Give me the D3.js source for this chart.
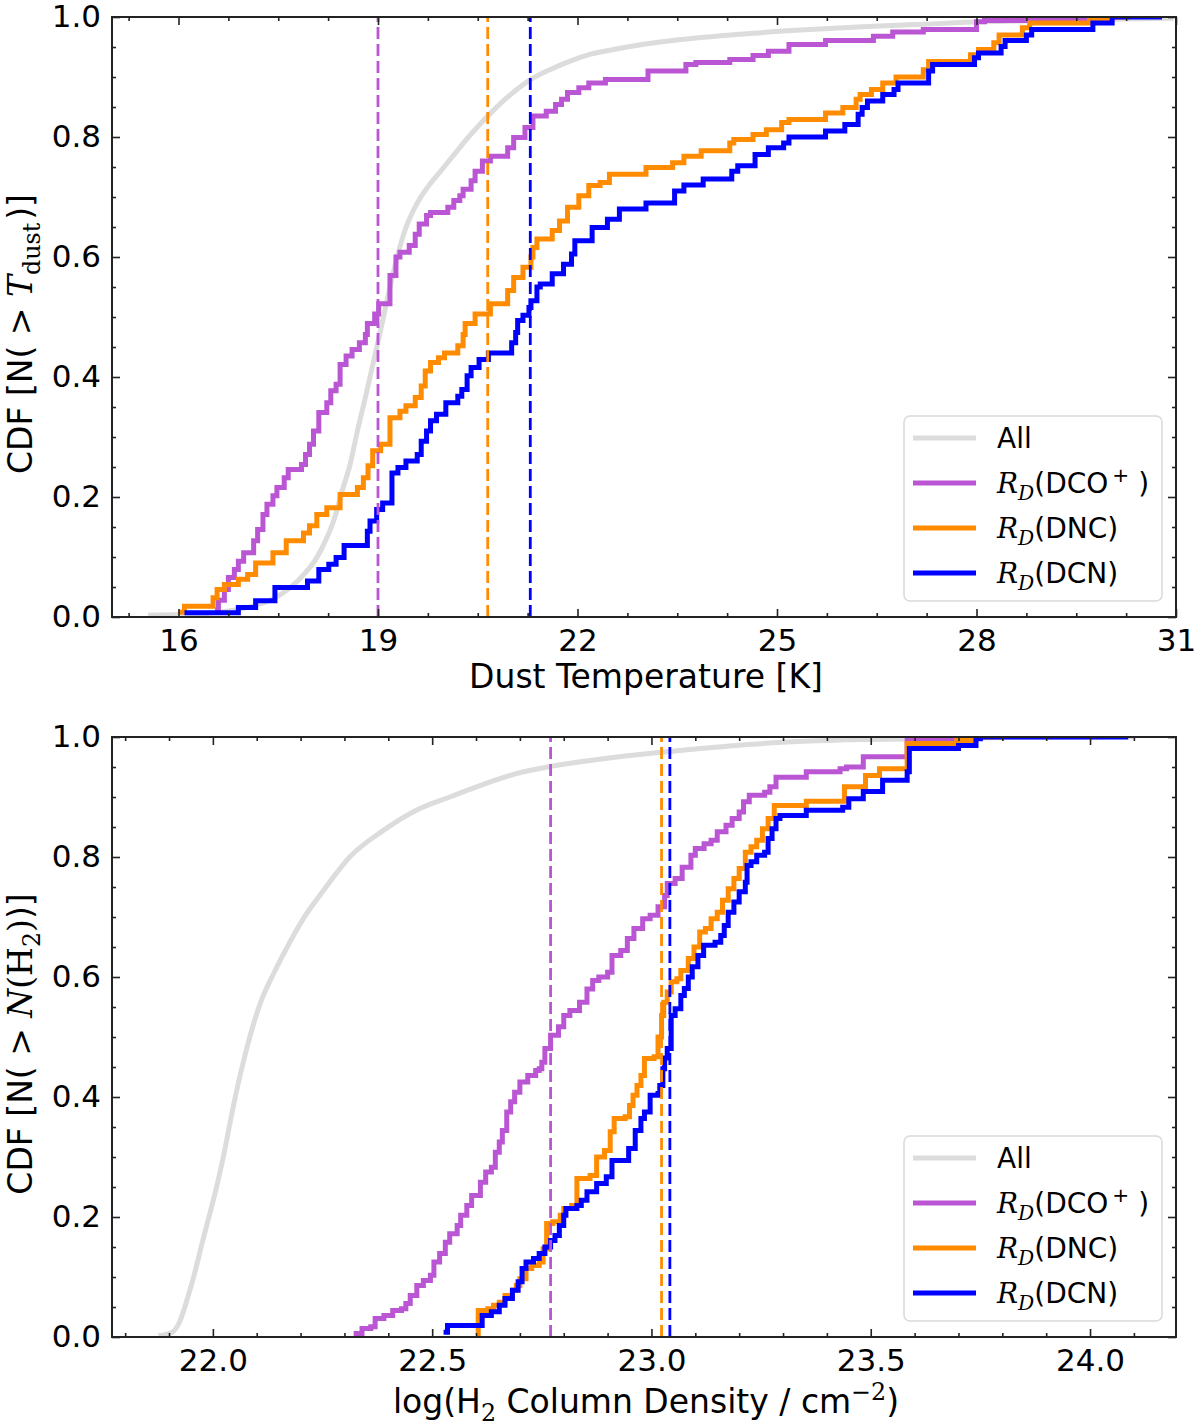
<!DOCTYPE html>
<html>
<head>
<meta charset="utf-8">
<script src="https://cdn.jsdelivr.net/npm/d3@7"></script>
<style>
    body { margin: 0; background: #fff; }
    svg text { font-family: "DejaVu Sans", sans-serif; fill: #000; }
    svg .math { font-family: "DejaVu Serif", "Liberation Serif", serif; }
</style>
</head>
<body>
<div id="chart"></div>
<script>
// ---- Top panel: dust temperature CDFs (x = T_dust in K, y = cumulative fraction)
const tdustAll = [[15.54,0.003],[16.0,0.004],[16.52,0.007],[17.04,0.016],[17.45,0.032],[17.68,0.049],[17.91,0.074],
    [18.08,0.099],[18.23,0.132],[18.35,0.166],[18.46,0.21],[18.58,0.254],[18.69,0.31],[18.81,0.366],[18.9,0.41],
    [18.98,0.449],[19.07,0.494],[19.18,0.55],[19.3,0.605],[19.4,0.643],[19.52,0.675],[19.65,0.701],[19.8,0.724],
    [19.95,0.744],[20.11,0.766],[20.4,0.805],[20.75,0.846],[21.04,0.875],[21.3,0.896],[21.6,0.913],[21.9,0.927],
    [22.2,0.938],[22.6,0.947],[22.91,0.953],[23.3,0.959],[23.78,0.965],[24.64,0.973],[25.5,0.979],[26.36,0.984],
    [27.22,0.988],[28.09,0.992],[28.95,0.994],[29.81,0.996],[30.96,0.998]];
const tdustDCO = [[16.55,0.012],[16.6,0.028],[16.69,0.046],[16.75,0.066],[16.84,0.079],[16.9,0.093],[16.98,0.107],
    [17.13,0.127],[17.19,0.146],[17.27,0.171],[17.33,0.188],[17.42,0.202],[17.48,0.216],[17.59,0.232],[17.65,0.246],
    [17.85,0.254],[17.91,0.271],[17.97,0.288],[18.03,0.31],[18.11,0.341],[18.23,0.357],[18.29,0.377],[18.37,0.388],
    [18.43,0.421],[18.52,0.435],[18.61,0.446],[18.72,0.457],[18.81,0.471],[18.84,0.489],[18.95,0.505],[19.01,0.522],
    [19.18,0.569],[19.27,0.6],[19.33,0.608],[19.47,0.619],[19.56,0.638],[19.62,0.655],[19.73,0.669],[19.79,0.674],
    [20.05,0.683],[20.14,0.694],[20.23,0.702],[20.28,0.713],[20.4,0.727],[20.46,0.743],[20.57,0.76],[20.69,0.768],
    [20.95,0.782],[21.04,0.799],[21.21,0.816],[21.33,0.835],[21.53,0.843],[21.67,0.854],[21.76,0.863],[21.85,0.874],
    [22.02,0.882],[22.17,0.89],[22.42,0.896],[23.06,0.91],[23.63,0.921],[23.78,0.924],[24.29,0.929],[24.64,0.936],
    [24.87,0.943],[25.18,0.954],[25.73,0.961],[26.45,0.968],[26.74,0.975],[27.2,0.979],[28.0,0.992],[28.12,0.994],
    [28.89,0.997],[29.98,1.0],[30.0,1.0]];
const tdustDNC = [[16.0,0.008],[16.09,0.018],[16.52,0.032],[16.58,0.046],[16.69,0.054],[16.9,0.063],[17.04,0.071],
    [17.16,0.09],[17.42,0.107],[17.62,0.127],[17.88,0.14],[17.97,0.152],[18.08,0.171],[18.23,0.182],[18.43,0.204],
    [18.69,0.216],[18.78,0.232],[18.85,0.252],[18.92,0.277],[19.04,0.288],[19.18,0.332],[19.33,0.343],[19.42,0.352],
    [19.56,0.366],[19.65,0.385],[19.71,0.41],[19.79,0.424],[19.91,0.432],[20.0,0.44],[20.2,0.452],[20.28,0.471],
    [20.31,0.489],[20.46,0.505],[20.69,0.522],[20.95,0.544],[21.04,0.566],[21.18,0.583],[21.3,0.6],[21.33,0.616],
    [21.39,0.63],[21.62,0.644],[21.73,0.66],[21.85,0.683],[22.02,0.702],[22.17,0.719],[22.34,0.724],[22.48,0.738],
    [23.03,0.749],[23.43,0.757],[23.6,0.768],[23.86,0.777],[24.29,0.79],[24.35,0.796],[24.64,0.804],[24.84,0.812],
    [25.07,0.824],[25.18,0.829],[25.73,0.84],[25.99,0.849],[26.19,0.863],[26.25,0.871],[26.42,0.879],[26.59,0.89],
    [26.79,0.9],[27.2,0.912],[27.28,0.926],[27.91,0.937],[28.03,0.946],[28.26,0.957],[28.34,0.97],[28.69,0.982],
    [28.8,0.99],[29.7,0.995],[29.98,1.0],[30.3,1.0]];
const tdustDCN = [[16.09,0.007],[16.9,0.016],[17.16,0.027],[17.45,0.049],[17.94,0.06],[18.11,0.079],[18.26,0.088],
    [18.37,0.099],[18.49,0.119],[18.84,0.143],[18.88,0.16],[18.98,0.179],[19.07,0.19],[19.21,0.24],[19.3,0.249],
    [19.42,0.26],[19.59,0.271],[19.65,0.293],[19.73,0.31],[19.79,0.327],[19.88,0.338],[20.02,0.357],[20.2,0.368],
    [20.26,0.379],[20.34,0.402],[20.4,0.416],[20.52,0.429],[20.66,0.44],[21.01,0.457],[21.07,0.474],[21.1,0.494],
    [21.18,0.503],[21.27,0.516],[21.3,0.527],[21.39,0.55],[21.44,0.555],[21.62,0.572],[21.79,0.588],[21.91,0.605],
    [21.96,0.627],[22.22,0.649],[22.45,0.663],[22.63,0.68],[23.03,0.69],[23.46,0.71],[23.6,0.72],[23.89,0.73],
    [24.32,0.743],[24.41,0.752],[24.67,0.771],[24.87,0.782],[25.1,0.79],[25.18,0.8],[25.73,0.81],[26.02,0.821],
    [26.22,0.838],[26.28,0.849],[26.36,0.86],[26.59,0.871],[26.76,0.879],[26.82,0.89],[27.28,0.91],[27.34,0.921],
    [27.97,0.932],[28.03,0.94],[28.37,0.951],[28.43,0.961],[28.75,0.97],[28.83,0.979],[29.75,0.99],[30.04,1.0],
    [30.79,1.0]];
const tdustMedians = [19.0, 20.65, 21.29];          // DCO+, DNC, DCN
const tdustTicks = [16, 19, 22, 25, 28, 31];

// ---- Bottom panel: log H2 column density CDFs
const nh2All = [[21.876,0.002],[21.907,0.008],[21.924,0.025],[21.942,0.064],[21.959,0.108],[21.976,0.158],
    [21.994,0.208],[22.011,0.258],[22.026,0.308],[22.04,0.36],[22.054,0.41],[22.07,0.46],[22.088,0.51],
    [22.11,0.56],[22.138,0.605],[22.168,0.648],[22.206,0.697],[22.252,0.744],[22.312,0.8],[22.388,0.844],
    [22.464,0.878],[22.54,0.9],[22.609,0.919],[22.692,0.939],[22.77,0.951],[22.882,0.963],[23.0,0.973],
    [23.1,0.98],[23.23,0.988],[23.32,0.992],[23.49,0.996],[23.67,0.997],[23.8,0.999],[24.1,1.0]];
const nh2DCO = [[22.321,0.006],[22.34,0.014],[22.36,0.017],[22.37,0.031],[22.39,0.036],[22.41,0.044],[22.43,0.047],
    [22.44,0.056],[22.45,0.069],[22.465,0.086],[22.48,0.094],[22.496,0.103],[22.504,0.125],[22.517,0.139],
    [22.53,0.158],[22.54,0.172],[22.557,0.186],[22.565,0.203],[22.579,0.219],[22.59,0.236],[22.61,0.258],
    [22.622,0.275],[22.635,0.283],[22.644,0.308],[22.653,0.325],[22.66,0.344],[22.67,0.375],[22.679,0.392],
    [22.688,0.408],[22.7,0.425],[22.718,0.436],[22.736,0.444],[22.744,0.447],[22.75,0.458],[22.757,0.481],
    [22.77,0.503],[22.788,0.517],[22.8,0.536],[22.814,0.544],[22.836,0.558],[22.853,0.58],[22.866,0.594],
    [22.88,0.6],[22.9,0.608],[22.91,0.636],[22.93,0.644],[22.945,0.664],[22.96,0.681],[22.98,0.697],[22.997,0.703],
    [23.015,0.717],[23.03,0.736],[23.036,0.756],[23.054,0.764],[23.07,0.783],[23.09,0.803],[23.1,0.814],
    [23.12,0.822],[23.136,0.828],[23.15,0.842],[23.17,0.853],[23.184,0.864],[23.2,0.875],[23.21,0.892],
    [23.223,0.903],[23.258,0.908],[23.27,0.917],[23.284,0.933],[23.353,0.942],[23.43,0.947],[23.445,0.95],
    [23.483,0.967],[23.583,0.994],[23.696,0.997],[23.73,1.0],[23.75,1.0]];
const nh2DNC = [[22.6,0.004],[22.605,0.044],[22.627,0.047],[22.64,0.053],[22.653,0.058],[22.666,0.069],
    [22.683,0.078],[22.692,0.086],[22.7,0.097],[22.714,0.114],[22.727,0.119],[22.744,0.125],[22.753,0.147],
    [22.761,0.189],[22.775,0.192],[22.792,0.203],[22.8,0.214],[22.818,0.219],[22.83,0.264],[22.86,0.269],
    [22.875,0.3],[22.893,0.311],[22.906,0.342],[22.915,0.364],[22.94,0.367],[22.95,0.386],[22.958,0.403],
    [22.967,0.419],[22.976,0.436],[22.984,0.464],[23.006,0.467],[23.015,0.5],[23.023,0.536],[23.028,0.558],
    [23.036,0.575],[23.045,0.592],[23.058,0.597],[23.067,0.611],[23.084,0.631],[23.097,0.65],[23.11,0.675],
    [23.123,0.681],[23.136,0.697],[23.15,0.708],[23.162,0.728],[23.175,0.747],[23.188,0.764],[23.2,0.781],
    [23.214,0.808],[23.227,0.817],[23.24,0.828],[23.253,0.847],[23.266,0.864],[23.28,0.886],[23.353,0.893],
    [23.44,0.917],[23.488,0.936],[23.52,0.947],[23.583,0.989],[23.696,0.994],[23.73,1.0],[23.8,1.0]];
const nh2DCN = [[22.526,0.008],[22.535,0.019],[22.614,0.036],[22.635,0.042],[22.653,0.053],[22.666,0.064],
    [22.683,0.078],[22.696,0.092],[22.705,0.114],[22.714,0.125],[22.731,0.131],[22.744,0.139],[22.757,0.15],
    [22.77,0.161],[22.78,0.169],[22.79,0.186],[22.8,0.203],[22.805,0.214],[22.83,0.219],[22.84,0.228],
    [22.853,0.242],[22.875,0.256],[22.897,0.267],[22.91,0.294],[22.948,0.314],[22.963,0.344],[22.976,0.364],
    [22.984,0.375],[22.997,0.403],[23.015,0.406],[23.019,0.419],[23.026,0.447],[23.03,0.465],[23.036,0.481],
    [23.045,0.536],[23.054,0.547],[23.067,0.569],[23.075,0.581],[23.084,0.6],[23.093,0.617],[23.106,0.636],
    [23.119,0.653],[23.145,0.658],[23.158,0.669],[23.166,0.686],[23.175,0.708],[23.188,0.725],[23.2,0.742],
    [23.214,0.758],[23.218,0.786],[23.227,0.792],[23.24,0.803],[23.258,0.808],[23.266,0.831],[23.275,0.847],
    [23.284,0.864],[23.293,0.869],[23.353,0.878],[23.436,0.883],[23.45,0.897],[23.483,0.909],[23.527,0.928],
    [23.583,0.942],[23.588,0.981],[23.7,0.986],[23.74,0.997],[23.75,1.0],[24.087,1.0]];
const nh2Medians = [22.77, 23.023, 23.042];
const nh2Ticks = [22.0, 22.5, 23.0, 23.5, 24.0];

const yTicks = [0, 0.2, 0.4, 0.6, 0.8, 1.0];
const seriesColors = ['#dcdcdc', '#ba55d3', '#ff8c00', '#0000ff'];

// legend / axis label pieces (math parts in serif, like mathtext)
const legendLabels = [
    [{ t: 'All' }],
    [{ t: 'R', math: 1, it: 1 }, { t: 'D', math: 1, it: 1, sub: 1 }, { t: '(DCO' }, { t: '+', sup: 1, dx: 4 }, { t: ' )' }],
    [{ t: 'R', math: 1, it: 1 }, { t: 'D', math: 1, it: 1, sub: 1 }, { t: '(DNC)' }],
    [{ t: 'R', math: 1, it: 1 }, { t: 'D', math: 1, it: 1, sub: 1 }, { t: '(DCN)' }]
];

const W = 1200, H = 1428;
const left = 112, right = 1176;

const svg = d3.select('#chart').append('svg')
    .attr('width', W)
    .attr('height', H);

// Write mixed text (sub/superscripts, serif math pieces) into one <text>
function rich(text, parts, size) {
    let shift = 0;
    parts.forEach(p => {
        const target = p.sub ? size * 0.24 : p.sup ? -size * 0.38 : 0;
        const ts = text.append('tspan').text(p.t).attr('dy', target - shift);
        shift = target;
        if (p.dx) ts.attr('dx', p.dx);
        if (p.math) ts.attr('class', 'math');
        if (p.it) ts.style('font-style', 'italic');
        if (p.sub || p.sup) ts.style('font-size', (size * 0.72) + 'px');
    });
}

function drawPanel(p) {
    const x = d3.scaleLinear().domain(p.xDomain).range([left, right]);
    const y = d3.scaleLinear().domain([0, 1]).range([p.bottom, p.top]);
    const g = svg.append('g');

    // Clip to axes area
    g.append('clipPath').attr('id', 'clip-' + p.id)
        .append('rect')
        .attr('x', left).attr('y', p.top)
        .attr('width', right - left).attr('height', p.bottom - p.top);
    const plot = g.append('g').attr('clip-path', `url(#clip-${p.id})`);

    // CDF curves
    p.series.forEach((s, i) => {
        const line = d3.line()
            .x(d => x(d[0]))
            .y(d => y(d[1]))
            .curve(i === 0 ? d3.curveMonotoneX : d3.curveStepAfter);
        plot.append('path')
            .datum(s)
            .attr('d', line)
            .attr('fill', 'none')
            .attr('stroke', seriesColors[i])
            .attr('stroke-width', 5);
    });

    // Median (dashed) lines
    p.medians.forEach((m, i) => {
        plot.append('line')
            .attr('x1', x(m)).attr('x2', x(m))
            .attr('y1', y(0)).attr('y2', y(1))
            .attr('stroke', seriesColors[i + 1])
            .attr('stroke-width', 2.8)
            .attr('stroke-dasharray', '12,5');
    });

    // Axes: inward major/minor ticks on all four sides
    const xMajor = p.xTicks;
    const xMinor = p.xMinor.filter(v => !xMajor.some(t => Math.abs(t - v) < 1e-6));
    const yMinor = d3.range(0.05, 1, 0.05).filter(v => !yTicks.some(t => Math.abs(t - v) < 1e-6));

    g.append('g').attr('class', 'axis')
        .attr('transform', `translate(0,${p.bottom})`)
        .call(d3.axisBottom(x).tickValues(xMajor).tickSize(-8).tickSizeOuter(0).tickPadding(12)
            .tickFormat(p.xFormat));
    g.append('g').attr('transform', `translate(0,${p.bottom})`)
        .call(d3.axisBottom(x).tickValues(xMinor).tickSize(-4).tickSizeOuter(0).tickFormat(''));
    g.append('g').attr('transform', `translate(0,${p.top})`)
        .call(d3.axisTop(x).tickValues(xMajor).tickSize(-8).tickSizeOuter(0).tickFormat(''));
    g.append('g').attr('transform', `translate(0,${p.top})`)
        .call(d3.axisTop(x).tickValues(xMinor).tickSize(-4).tickSizeOuter(0).tickFormat(''));

    g.append('g').attr('class', 'axis')
        .attr('transform', `translate(${left},0)`)
        .call(d3.axisLeft(y).tickValues(yTicks).tickSize(-8).tickSizeOuter(0).tickPadding(11)
            .tickFormat(d3.format('.1f')));
    g.append('g').attr('transform', `translate(${left},0)`)
        .call(d3.axisLeft(y).tickValues(yMinor).tickSize(-4).tickSizeOuter(0).tickFormat(''));
    g.append('g').attr('transform', `translate(${right},0)`)
        .call(d3.axisRight(y).tickValues(yTicks).tickSize(-8).tickSizeOuter(0).tickFormat(''));
    g.append('g').attr('transform', `translate(${right},0)`)
        .call(d3.axisRight(y).tickValues(yMinor).tickSize(-4).tickSizeOuter(0).tickFormat(''));

    g.selectAll('.domain').remove();
    g.selectAll('.tick line').attr('stroke', '#222').attr('stroke-width', 1.6);
    g.selectAll('.axis text')
        .style('font-size', '31px')
        .style('font-family', '"DejaVu Sans", sans-serif')
        .attr('fill', '#000');

    // Frame
    g.append('rect')
        .attr('x', left).attr('y', p.top)
        .attr('width', right - left).attr('height', p.bottom - p.top)
        .attr('fill', 'none')
        .attr('stroke', '#222')
        .attr('stroke-width', 2);

    // Axis labels
    const xl = g.append('text')
        .attr('x', (left + right) / 2 + 2)
        .attr('y', p.bottom + p.xLabelGap)
        .attr('text-anchor', 'middle')
        .style('font-size', '33px');
    rich(xl, p.xLabel, 33);

    const yl = g.append('text')
        .attr('transform', `translate(32,${p.yLabelCenter}) rotate(-90)`)
        .attr('text-anchor', 'middle')
        .style('font-size', '33px');
    rich(yl, p.yLabel, 33);

    // Legend
    const lg = g.append('g').attr('transform', `translate(904,${p.legendTop})`);
    lg.append('rect')
        .attr('width', 258).attr('height', 185)
        .attr('rx', 6)
        .attr('fill', '#fff').attr('fill-opacity', 0.8)
        .attr('stroke', '#d9d9d9').attr('stroke-width', 1.5);
    legendLabels.forEach((lab, i) => {
        const ry = 22 + i * 45;
        lg.append('line')
            .attr('x1', 9).attr('x2', 72)
            .attr('y1', ry).attr('y2', ry)
            .attr('stroke', seriesColors[i])
            .attr('stroke-width', 5);
        const t = lg.append('text')
            .attr('x', 93).attr('y', ry + 10)
            .style('font-size', '28px');
        rich(t, lab, 28);
    });
}

drawPanel({
    id: 'tdust', top: 17, bottom: 617,
    xDomain: [15, 31],
    xTicks: tdustTicks,
    xMinor: d3.range(15.25, 31.01, 0.75),
    xFormat: d3.format('d'),
    series: [tdustAll, tdustDCO, tdustDNC, tdustDCN],
    medians: tdustMedians,
    legendTop: 416,
    yLabelCenter: 334,
    xLabelGap: 71,
    xLabel: [{ t: 'Dust Temperature [K]' }],
    yLabel: [{ t: 'CDF [N(' }, { t: ' > ', math: 1 }, { t: 'T', math: 1, it: 1 },
             { t: 'dust', math: 1, sub: 1 }, { t: ')]', dx: 3 }]
});

drawPanel({
    id: 'nh2', top: 737, bottom: 1337,
    xDomain: [21.77, 24.196],
    xTicks: nh2Ticks,
    xMinor: d3.range(21.8, 24.19, 0.1),
    xFormat: d3.format('.1f'),
    series: [nh2All, nh2DCO, nh2DNC, nh2DCN],
    medians: nh2Medians,
    legendTop: 1136,
    yLabelCenter: 1044,
    xLabelGap: 76,
    xLabel: [{ t: 'log(H' }, { t: '2', math: 1, sub: 1 }, { t: ' Column Density / cm' },
             { t: '\u22122', math: 1, sup: 1 }, { t: ')' }],
    yLabel: [{ t: 'CDF [N(' }, { t: ' > ', math: 1 }, { t: 'N', math: 1, it: 1 }, { t: '(H', math: 1 },
             { t: '2', math: 1, sub: 1 }, { t: ')', math: 1 }, { t: ')]' }]
});
</script>
</body>
</html>
